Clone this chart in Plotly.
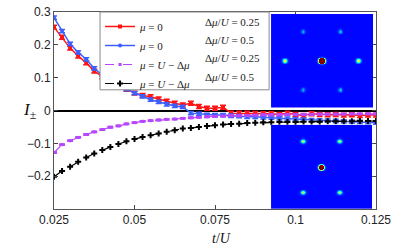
import numpy as np
import plotly.graph_objects as go

# ---------------- data ----------------
t_over_U = [0.025, 0.0275, 0.03, 0.0325, 0.035, 0.0375, 0.04, 0.0425, 0.045, 0.0475,
            0.05, 0.0525, 0.055, 0.0575, 0.06, 0.0625, 0.065, 0.0675, 0.07, 0.0725,
            0.075, 0.0775, 0.08, 0.0825, 0.085, 0.0875, 0.09, 0.0925, 0.095, 0.0975,
            0.1, 0.1025, 0.105, 0.1075, 0.11, 0.1125, 0.115, 0.1175, 0.12, 0.1225, 0.125]

I_mu0_d025 = [0.254, 0.223, 0.190, 0.166, 0.145, 0.120, 0.103, 0.087, 0.077, 0.065,
              0.053, 0.046, 0.042, 0.035, 0.028, 0.022, 0.017, 0.022, 0.012, 0.007,
              0.007, 0.010, -0.008, -0.008, -0.008, -0.009, -0.010, -0.010, -0.012, -0.008,
              -0.012, -0.015, -0.010, -0.012, -0.013, -0.012, -0.014, -0.013, -0.015, -0.014, -0.014]
err_mu0_d025 = [0.006] * 41

I_mu0_d05 = [0.283, 0.242, 0.203, 0.177, 0.156, 0.128, 0.109, 0.089, 0.076, 0.065,
             0.053, 0.043, 0.033, 0.026, 0.019, 0.014, 0.011, -0.008, -0.010, -0.013,
             -0.014, -0.014, -0.016, -0.017, -0.019, -0.019, -0.021, -0.022, -0.024, -0.025,
             -0.026, -0.028, -0.029, -0.030, -0.031, -0.032, -0.033, -0.034, -0.035, -0.036, -0.037]
err_mu0_d05 = [0.005] * 41

I_muU_d025 = [-0.128, -0.104, -0.092, -0.082, -0.073, -0.065, -0.058, -0.051, -0.047, -0.041,
              -0.037, -0.033, -0.031, -0.029, -0.027, -0.026, -0.024, -0.022, -0.021, -0.019,
              -0.018, -0.017, -0.016, -0.016, -0.015, -0.014, -0.013, -0.013, -0.013, -0.012,
              -0.012, -0.012, -0.012, -0.011, -0.011, -0.011, -0.011, -0.010, -0.010, -0.010, -0.010]
err_muU_d025 = [0.002] * 41

I_muU_d05 = [-0.202, -0.184, -0.171, -0.156, -0.143, -0.131, -0.120, -0.111, -0.102, -0.094,
             -0.087, -0.081, -0.075, -0.070, -0.065, -0.060, -0.055, -0.053, -0.050, -0.047,
             -0.045, -0.043, -0.041, -0.040, -0.038, -0.037, -0.036, -0.036, -0.035, -0.035,
             -0.035, -0.034, -0.034, -0.034, -0.033, -0.033, -0.033, -0.033, -0.032, -0.032, -0.032]

series_names = ["<i>μ</i> = 0", "<i>μ</i> = 0",
                "<i>μ</i> = <i>U</i> − Δ<i>μ</i>", "<i>μ</i> = <i>U</i> − Δ<i>μ</i>"]
series_params = ["Δ<i>μ</i>/<i>U</i> = 0.25", "Δ<i>μ</i>/<i>U</i> = 0.5",
                 "Δ<i>μ</i>/<i>U</i> = 0.25", "Δ<i>μ</i>/<i>U</i> = 0.5"]

x_ticks = [0.025, 0.05, 0.075, 0.1, 0.125]
x_ticktext = ["0.025", "0.05", "0.075", "0.1", "0.125"]
y_ticks = [-0.2, -0.1, 0, 0.1, 0.2, 0.3]

# inset spot maps (relative position in inset, x from left, y from top; peak level)
top_spot_x = [0.50, 0.137, 0.86, 0.316, 0.68, 0.316, 0.68]
top_spot_y = [0.50, 0.50, 0.50, 0.19, 0.19, 0.81, 0.81]
top_spot_amp = [4.0, 0.52, 0.52, 0.20, 0.20, 0.20, 0.20]
bot_spot_x = [0.50, 0.32, 0.68, 0.32, 0.68]
bot_spot_y = [0.51, 0.20, 0.20, 0.81, 0.81]
bot_spot_amp = [4.0, 0.52, 0.52, 0.52, 0.52]
inset_background = 0.13

# ---------------- figure ----------------
RED = "rgb(255,20,20)"
BLUE = "rgb(60,95,255)"
PURPLE = "rgb(185,70,255)"
BLACK = "rgb(0,0,0)"

fig = go.Figure()

fig.add_trace(go.Scatter(
    x=t_over_U, y=I_mu0_d025, name=series_names[0], mode="lines+markers",
    line=dict(color=RED, width=1.5), marker=dict(symbol="square", size=4, color=RED),
    error_y=dict(type="data", array=err_mu0_d025, color=RED, thickness=1.5, width=3)))
fig.add_trace(go.Scatter(
    x=t_over_U, y=I_mu0_d05, name=series_names[1], mode="lines+markers",
    line=dict(color=BLUE, width=1.5), marker=dict(symbol="circle", size=4, color=BLUE),
    error_y=dict(type="data", array=err_mu0_d05, color=BLUE, thickness=1.5, width=3)))
fig.add_trace(go.Scatter(
    x=t_over_U, y=I_muU_d025, name=series_names[2], mode="lines+markers",
    line=dict(color=PURPLE, width=1.2, dash="dash"), marker=dict(symbol="square", size=3, color=PURPLE),
    error_y=dict(type="data", array=err_muU_d025, color=PURPLE, thickness=1.5, width=3)))
fig.add_trace(go.Scatter(
    x=t_over_U, y=I_muU_d05, name=series_names[3], mode="lines+markers",
    line=dict(color=BLACK, width=1.2, dash="dash"), marker=dict(symbol="cross", size=5, color=BLACK)))

# insets
n = 110
g = (np.arange(n) + 0.5) / n
GX, GY = np.meshgrid(g, g)


def spot_map(xs, ys, amps, sig_c, sig_o):
    z = np.full_like(GX, inset_background)
    for i, (x0, y0, a) in enumerate(zip(xs, ys, amps)):
        s = sig_c if i == 0 else sig_o
        z += a * np.exp(-(((GX - x0) ** 2) + (GY - y0) ** 2) / (2 * s * s))
    return z


jet = [[0.0, "rgb(0,0,143)"], [0.125, "rgb(0,0,255)"], [0.375, "rgb(0,255,255)"],
       [0.625, "rgb(255,255,0)"], [0.875, "rgb(255,0,0)"], [1.0, "rgb(128,0,0)"]]

fig.add_trace(go.Heatmap(x=g, y=g, z=spot_map(top_spot_x, top_spot_y, top_spot_amp, 0.015, 0.014),
                         colorscale=jet, zmin=0, zmax=1, showscale=False,
                         xaxis="x2", yaxis="y2", hoverinfo="skip"))
fig.add_trace(go.Heatmap(x=g, y=g, z=spot_map(bot_spot_x, bot_spot_y, bot_spot_amp, 0.015, 0.014),
                         colorscale=jet, zmin=0, zmax=1, showscale=False,
                         xaxis="x3", yaxis="y3", hoverinfo="skip"))

axis_font = dict(family="Liberation Sans", size=12, color="#222")
fig.update_layout(
    width=415, height=251,
    margin=dict(l=54, r=39, t=5, b=42),
    paper_bgcolor="white", plot_bgcolor="white",
    showlegend=True,
    xaxis=dict(domain=[0, 1], range=[0.025, 0.125], tickvals=x_ticks, ticktext=x_ticktext,
               ticks="inside", ticklen=4, tickcolor="#444", showline=True, linecolor="#555",
               linewidth=1, mirror="ticks", showgrid=False, zeroline=False, tickfont=axis_font,
               ticklabeloverflow="allow"),
    yaxis=dict(domain=[0, 1], range=[-0.3, 0.3], tickvals=y_ticks,
               ticks="inside", ticklen=4, tickcolor="#444", showline=True, linecolor="#555",
               linewidth=1, mirror="ticks", showgrid=False, zeroline=True, zerolinecolor="black",
               zerolinewidth=2, tickfont=axis_font, ticklabeloverflow="allow"),
    xaxis2=dict(domain=[0.674, 0.991], range=[0, 1], visible=False, anchor="y2"),
    yaxis2=dict(domain=[0.515, 0.990], range=[1, 0], visible=False, anchor="x2"),
    xaxis3=dict(domain=[0.674, 0.988], range=[0, 1], visible=False, anchor="y3"),
    yaxis3=dict(domain=[0.0, 0.428], range=[1, 0], visible=False, anchor="x3"),
    legend=dict(x=0.143, y=1, xanchor="left", yanchor="top", bgcolor="rgba(0,0,0,0)",
                borderwidth=0,
                font=dict(family="Liberation Serif", size=11, color="#222"),
                itemwidth=30, tracegroupgap=0),
)

# legend frame enclosing both text columns
fig.add_shape(type="rect", xref="paper", yref="paper", x0=0.143, x1=0.668, y0=0.605, y1=1.0,
              line=dict(color="#888", width=1), fillcolor="white", layer="above")

row_y = [0.951, 0.858, 0.765, 0.672]
for txt, yy in zip(series_params, row_y):
    fig.add_annotation(x=0.4627, y=yy, xref="paper", yref="paper", text=txt, showarrow=False,
                       xanchor="left", yanchor="middle",
                       font=dict(family="Liberation Serif", size=11, color="#222"))

fig.add_annotation(x=-0.075, y=0.5, xref="paper", yref="paper", text="<i>I</i><sub>±</sub>",
                   showarrow=False, xanchor="center", yanchor="middle",
                   font=dict(family="Liberation Serif", size=17, color="#111"))
fig.add_annotation(x=0.52, y=-0.152, xref="paper", yref="paper", text="<i>t</i>/<i>U</i>",
                   showarrow=False, xanchor="center", yanchor="middle",
                   font=dict(family="Liberation Serif", size=14, color="#111"))

fig.write_html("out.html", config={"displayModeBar": False},
               post_script="document.body.style.margin='0px';")
